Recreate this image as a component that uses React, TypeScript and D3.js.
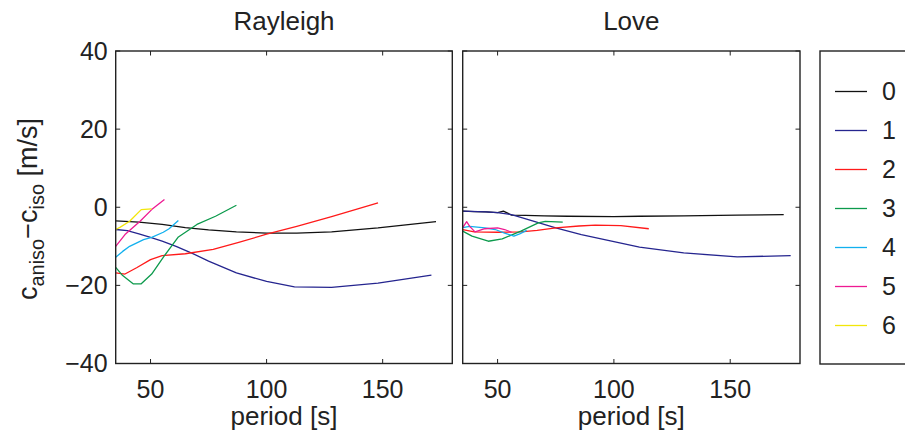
import React from "react";
import * as d3 from "d3";

type Pt = [number, number];

const modes = ["0", "1", "2", "3", "4", "5", "6"];
const colors = ["#111111", "#25258f", "#ff1a1a", "#0c9a4c", "#12b0ee", "#ee1a92", "#f2e60a"];

const rayleigh0: Pt[] = [[35, -3.5], [45, -3.8], [55, -4.4], [65, -5.2], [75, -5.8], [87, -6.3], [100, -6.6], [113, -6.6], [128, -6.3], [148, -5.3], [173, -3.7]];
const rayleigh1: Pt[] = [[35, -5.7], [40, -6.0], [45, -6.8], [50, -7.7], [55, -8.7], [61, -10.0], [68, -11.8], [75, -13.8], [87, -16.8], [100, -19.0], [112, -20.4], [128, -20.5], [148, -19.4], [171, -17.4]];
const rayleigh2: Pt[] = [[35, -16.8], [39, -17.1], [44, -15.5], [50, -13.4], [55, -12.4], [65, -11.9], [77, -10.8], [88, -9.0], [100, -6.9], [113, -4.9], [128, -2.4], [148, 1.1]];
const rayleigh3: Pt[] = [[35, -15.4], [38, -17.5], [42.5, -19.6], [46, -19.6], [50.5, -17.1], [56, -12.4], [62, -7.6], [70, -4.4], [78, -2.3], [87, 0.5]];
const rayleigh4: Pt[] = [[35, -12.8], [38, -11.3], [41, -10.0], [47, -8.3], [50.5, -7.7], [55.5, -6.4], [58, -5.5], [62, -3.4]];
const rayleigh5: Pt[] = [[35, -10.0], [39, -7.0], [45.5, -3.6], [50.5, -0.6], [56, 2.0]];
const rayleigh6: Pt[] = [[35, -5.7], [37, -5.1], [41, -3.6], [46, -0.6], [50.5, -0.4]];

const love0: Pt[] = [[35, -1.0], [40, -1.1], [45, -1.2], [50, -1.4], [52.5, -1.0], [56, -2.0], [62, -2.1], [70, -2.2], [80, -2.3], [100, -2.4], [111, -2.3], [130, -2.2], [153, -2.0], [173, -1.9]];
const love1: Pt[] = [[35, -1.0], [45, -1.2], [50, -1.4], [56, -1.9], [65, -3.5], [75, -5.3], [86, -7.0], [96, -8.3], [111, -10.2], [130, -11.7], [153, -12.7], [176, -12.4]];
const love2: Pt[] = [[35, -5.7], [40, -6.3], [50, -6.4], [60, -6.3], [67, -5.9], [75, -5.3], [85, -4.8], [92, -4.6], [103, -4.7], [115, -5.5]];
const love3: Pt[] = [[35, -6.1], [39, -7.4], [46, -8.7], [52, -8.1], [60, -6.1], [67.5, -4.0], [70.5, -3.6], [78, -3.8]];
const love4: Pt[] = [[35, -5.2], [38, -4.9], [44.5, -5.3], [49, -5.7], [53, -6.6], [57, -7.4], [59.5, -6.8], [62.5, -5.9]];
const love5: Pt[] = [[35, -5.2], [36.7, -3.7], [38, -4.9], [40.3, -6.3], [44.5, -5.5], [50, -5.3], [53, -5.7], [56, -6.4]];

const rayleighSeries: Pt[][] = [rayleigh0, rayleigh1, rayleigh2, rayleigh3, rayleigh4, rayleigh5, rayleigh6];
const loveSeries: Pt[][] = [love0, love1, love2, love3, love4, love5];

const xTicks = [50, 100, 150];
const yTicks = [-40, -20, 0, 20, 40];
const xDomain: [number, number] = [35, 180];
const yDomain: [number, number] = [-40, 40];

const FONT = "'Liberation Sans', Arial, Helvetica, sans-serif";
const TXT = "#222";

const top = 51;
const bottom = 363.5;

function Panel({ x0, x1, title, series, showYLabels }: { x0: number; x1: number; title: string; series: Pt[][]; showYLabels: boolean }) {
  const x = d3.scaleLinear().domain(xDomain).range([x0, x1]);
  const y = d3.scaleLinear().domain(yDomain).range([bottom, top]);
  const line = d3.line<Pt>().x((d) => x(d[0])).y((d) => y(d[1]));
  const tl = 4.5;
  const cx = (x0 + x1) / 2;
  return (
    <g>
      <defs>
        <clipPath id={`clip-${title}`}>
          <rect x={x0} y={top} width={x1 - x0} height={bottom - top} />
        </clipPath>
      </defs>
      <g clipPath={`url(#clip-${title})`}>
        {series.map((s, i) => (
          <path key={i} d={line(s) || ""} fill="none" stroke={colors[i]} strokeWidth={1.3} strokeLinejoin="round" />
        ))}
      </g>
      <rect x={x0} y={top} width={x1 - x0} height={bottom - top} fill="none" stroke={TXT} strokeWidth={1.4} />
      {xTicks.map((t) => (
        <g key={`x${t}`}>
          <line x1={x(t)} x2={x(t)} y1={bottom} y2={bottom - tl} stroke={TXT} strokeWidth={1} />
          <line x1={x(t)} x2={x(t)} y1={top} y2={top + tl} stroke={TXT} strokeWidth={1} />
          <text x={x(t)} y={397.5} textAnchor="middle" fontSize={25} fontFamily={FONT} fill={TXT}>{t}</text>
        </g>
      ))}
      {yTicks.map((t) => (
        <g key={`y${t}`}>
          <line x1={x0} x2={x0 + tl} y1={y(t)} y2={y(t)} stroke={TXT} strokeWidth={1} />
          <line x1={x1} x2={x1 - tl} y1={y(t)} y2={y(t)} stroke={TXT} strokeWidth={1} />
          {showYLabels && (
            <text x={x0 - 8} y={y(t) + 8.5} textAnchor="end" fontSize={25} fontFamily={FONT} fill={TXT}>
              {t < 0 ? `\u2212${Math.abs(t)}` : `${t}`}
            </text>
          )}
        </g>
      ))}
      <text x={cx} y={30} textAnchor="middle" fontSize={26} fontFamily={FONT} fill={TXT}>{title}</text>
      <text x={cx} y={425} textAnchor="middle" fontSize={26} fontFamily={FONT} fill={TXT}>period [s]</text>
    </g>
  );
}

export default function App() {
  const legendY = d3.scaleLinear().domain([0, 6]).range([91.5, 325.5]);
  return (
    <svg width={905} height={439} style={{ position: "absolute", left: 0, top: 0, background: "#fff" }}>
      <rect x={0} y={0} width={905} height={439} fill="#fff" />
      <Panel x0={115.7} x1={452.3} title="Rayleigh" series={rayleighSeries} showYLabels={true} />
      <Panel x0={462.7} x1={800} title="Love" series={loveSeries} showYLabels={false} />
      <text transform="translate(37,209) rotate(-90)" textAnchor="middle" fontSize={27} fontFamily={FONT} fill={TXT}>
        c<tspan fontSize={20} dy={7}>aniso</tspan>
        <tspan dy={-7}>{"\u2212"}c</tspan>
        <tspan fontSize={20} dy={7}>iso</tspan>
        <tspan dy={-7}> [m/s]</tspan>
      </text>
      <rect x={820} y={51} width={120} height={313} fill="#fff" stroke={TXT} strokeWidth={1.4} />
      {modes.map((m, i) => (
        <g key={m}>
          <line x1={835} x2={867} y1={legendY(i)} y2={legendY(i)} stroke={colors[i]} strokeWidth={1.3} />
          <text x={882} y={legendY(i) + 8.5} fontSize={25} fontFamily={FONT} fill={TXT}>{m}</text>
        </g>
      ))}
    </svg>
  );
}
